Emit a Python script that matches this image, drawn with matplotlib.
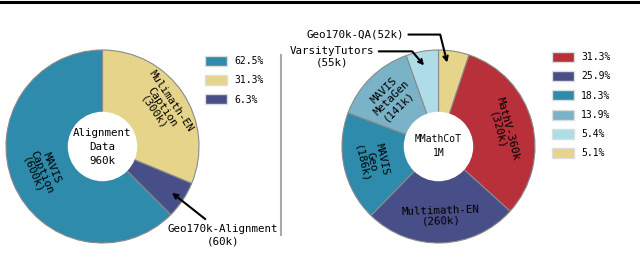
import numpy as np
import matplotlib.pyplot as plt
from matplotlib.lines import Line2D
from matplotlib.patches import Patch, Circle

plt.rcParams['font.family'] = 'DejaVu Sans Mono'

# left pie: alignment data
nomes_esq = ['Mulimath-EN\nCaption\n(300k)', 'Geo170k-Alignment\n(60k)', 'MAVIS\nCaption\n(600k)']
valores_esq = [300, 60, 600]
cores_esq = ['#e6d48a', '#484e87', '#2e8bab']
legenda_esq = ['62.5%', '31.3%', '6.3%']
cores_leg_esq = ['#2e8bab', '#e6d48a', '#484e87']

# right pie: MMathCoT
nomes_dir = ['Geo170k-QA(52k)', 'MathV-360k\n(320k)', 'Multimath-EN\n(260k)',
             'MAVIS\nGeo\n(186k)', 'MAVIS\nMetaGen\n(141k)', 'VarsityTutors\n(55k)']
valores_dir = [52, 320, 260, 186, 141, 55]
cores_dir = ['#e6d48a', '#b8303a', '#484e87', '#2e8bab', '#7ab2c7', '#aedde8']
legenda_dir = ['31.3%', '25.9%', '18.3%', '13.9%', '5.4%', '5.1%']
cores_leg_dir = ['#b8303a', '#484e87', '#2e8bab', '#7ab2c7', '#aedde8', '#e6d48a']

W, H = 640, 280
fig = plt.figure(figsize=(6.4, 2.8), dpi=100)


def desenhar_pizza(ax, valores, cores, nomes, centro_txt, fs_centro, rotulos_dentro):
    wedges, _ = ax.pie(valores, colors=cores, startangle=90, counterclock=False,
                       wedgeprops={'edgecolor': '#8a8a8a', 'linewidth': 0.8})
    ax.add_patch(Circle((0, 0), 0.36, facecolor='white', zorder=3))
    ax.set_xlim(-1, 1)
    ax.set_ylim(-1, 1)
    ax.text(0, 0, centro_txt, ha='center', va='center', fontsize=fs_centro,
            linespacing=1.5, zorder=4)
    for w, nome, (dentro, r) in zip(wedges, nomes, rotulos_dentro):
        if not dentro:
            continue
        ang = ((w.theta1 + w.theta2) / 2) % 360
        x = r * np.cos(np.radians(ang))
        y = r * np.sin(np.radians(ang))
        rot = (ang - 90) % 360
        if rot > 180:
            rot -= 360
        if rot > 90:
            rot -= 180
        if rot < -90:
            rot += 180
        ax.text(x, y, nome, ha='center', va='center', rotation=rot,
                rotation_mode='anchor', fontsize=7.8, linespacing=1.1)
    return wedges


# left
ax1 = fig.add_axes([6 / W, 37 / H, 193 / W, 193 / H])
desenhar_pizza(ax1, valores_esq, cores_esq, nomes_esq, 'Alignment\nData\n960k', 7.8,
               [(True, 0.74), (False, 0), (True, 0.68)])
ax1.annotate(nomes_esq[1], xy=(0.72, -0.48), xytext=(1.25, -0.92),
             ha='center', va='center', fontsize=7.8, annotation_clip=False,
             arrowprops=dict(arrowstyle='->', color='black', lw=1.5,
                             relpos=(0.4, 1.0), shrinkA=3, shrinkB=0))

# right
ax2 = fig.add_axes([342 / W, 37 / H, 193 / W, 193 / H])
desenhar_pizza(ax2, valores_dir, cores_dir, nomes_dir, 'MMathCoT\n1M', 7,
               [(False, 0), (True, 0.68), (True, 0.72), (True, 0.71), (True, 0.7), (False, 0)])
ax2.annotate(nomes_dir[0], xy=(0.09, 0.87), xytext=(-0.86, 1.16),
             ha='center', va='center', fontsize=7.8, annotation_clip=False,
             arrowprops=dict(arrowstyle='->', color='black', lw=1.5,
                             connectionstyle='angle,angleA=0,angleB=104,rad=0',
                             relpos=(1.0, 0.5), shrinkA=1, shrinkB=0))
ax2.annotate(nomes_dir[5], xy=(-0.15, 0.84), xytext=(-1.1, 0.93),
             ha='center', va='center', fontsize=7.8, annotation_clip=False,
             arrowprops=dict(arrowstyle='->', color='black', lw=1.5,
                             connectionstyle='angle,angleA=0,angleB=130,rad=0',
                             relpos=(1.0, 0.75), shrinkA=1, shrinkB=0))

# legends
kw = dict(frameon=False, fontsize=7, handlelength=2.3, handleheight=1.2,
          handletextpad=0.7, labelspacing=0.92, borderpad=0, borderaxespad=0,
          loc='upper left', bbox_transform=fig.transFigure)
fig.legend([Patch(facecolor=c, edgecolor='#dddddd') for c in cores_leg_esq], legenda_esq,
           bbox_to_anchor=(205 / W, 1 - 56 / H), **kw)
fig.legend([Patch(facecolor=c, edgecolor='#dddddd') for c in cores_leg_dir], legenda_dir,
           bbox_to_anchor=(552 / W, 1 - 52 / H), **kw)

# separator and top rule
fig.add_artist(Line2D([281 / W, 281 / W], [1 - 55 / H, 1 - 235 / H],
                      transform=fig.transFigure, color='#aaaaaa', lw=1.5))
fig.add_artist(Line2D([0, 1], [1 - 1.5 / H, 1 - 1.5 / H],
                      transform=fig.transFigure, color='black', lw=2.2))

fig.savefig('out.png', dpi=100)
